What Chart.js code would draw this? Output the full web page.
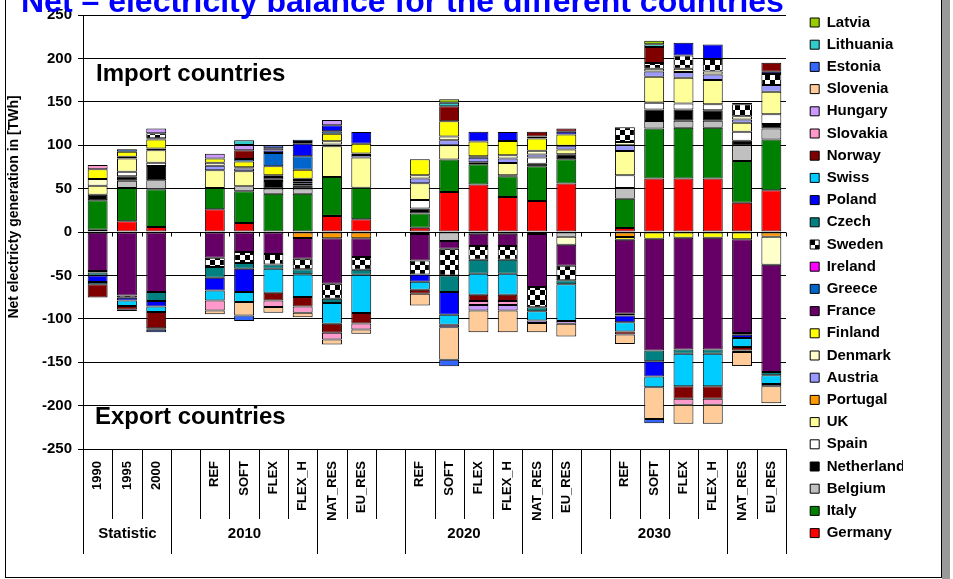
<!DOCTYPE html>
<html>
<head>
<meta charset="utf-8">
<script src="https://cdn.jsdelivr.net/npm/chart.js@4.4.1/dist/chart.umd.min.js"></script>
<style>
  html, body { margin: 0; padding: 0; background: #fff; }
  #wrap { width: 953px; height: 579px; }
</style>
</head>
<body>
<div id="wrap"><canvas id="balanceChart" width="953" height="579"></canvas></div>
<script>
// x categories, empty strings are the spacer columns between the groups
var categories = ['1990', '1995', '2000', '', 'REF', 'SOFT', 'FLEX', 'FLEX_H', 'NAT_RES', 'EU_RES', '',
    'REF', 'SOFT', 'FLEX', 'FLEX_H', 'NAT_RES', 'EU_RES', '', 'REF', 'SOFT', 'FLEX', 'FLEX_H', 'NAT_RES', 'EU_RES'];
var groupNames = ['Statistic', '2010', '2020', '2030'];
var groupStart = [0, 3, 11, 17];
var groupEnd = [3, 8, 15, 22];
var longSeparators = [0, 3, 8, 11, 15, 17, 22, 24];
var yTicks = [-250, -200, -150, -100, -50, 0, 50, 100, 150, 200, 250];

// net balance per country in TWh (positive = import, negative = export)
var germany = [2.7, 12.3, 5.8, 0, 26.2, 10.4, 0, 0, 18.5, 14.6, 0, 5, 46.2, 54.6, 40.4, 35.8, 55.8, 0, 4.6, 61.5, 61.5, 61.5, 33.8, 48.1];
var italy = [33.8, 38.5, 43.5, 0, 24.6, 36.5, 44.2, 44.2, 45, 36.5, 0, 16.2, 37.3, 23.5, 23.8, 40, 28.1, 0, 33.8, 57.7, 58.5, 58.5, 48.1, 58.5];
var belgium = [-1, 8.1, 10.4, 0, 0, 5.8, 5.8, 5.8, 0, 0, 0, 0, -10.4, -1.9, -1.9, 0, -5.4, 0, 12.3, 8.8, 8.1, 8.1, 18.1, 12.7];
var netherland = [6.5, 5.4, 16.2, 0, 0, 0, 8.8, 3.8, 0, 0, 0, 5.8, 0, 0, 1.2, 2.7, 5.8, 0, 0, 13.1, 13.1, 12.3, 5, 5];
var spain = [0, 5, 3.8, 0, 0, 0, 1.9, 1.9, 0, 0, 0, 10, 0, 0, 0, 7.3, 0, 0, 14.6, 7.7, 6.9, 6.9, 10.4, 11.5];
var uk = [10.4, 15.4, 14.6, 0, 20.4, 17.3, 0, 2.3, 35.4, 34.6, 0, 19.2, 16.5, 2.3, 14.2, -2.3, 5.4, 0, 28.1, 30, 29.6, 27.7, 10.4, 25.8];
var portugal = [0, 0, 0, 0, 0, 0, 0, -6.9, -7.3, -7.3, 0, -2.3, 0, 0, 0, 0, 0, 0, -5.8, 0, 0, 0, 0, -5.4];
var austria = [0, 0, 0, 0, 5, 3.1, 2.7, 1.9, 1.9, 3.1, 0, 5.4, 5.8, 5, 5, 3.5, 4.2, 0, 6.5, 6.2, 6.5, 6.5, 3.8, 7.7];
var denmark = [7.7, 2, 2, 0, 3.5, 1.5, 1.9, 1.5, 3.8, 1.5, 0, 3.8, 4.2, 1.9, 3.8, 4.2, -9.2, 0, 3.8, 3.1, 3.8, 3.5, 3.8, -32.3];
var finland = [11.2, 5.8, 10.4, 0, 5, 6.5, 10.4, 10.4, 8.5, 11.5, 0, 18.5, 17.7, 16.9, 16.5, 14.2, 13, 0, -3.1, -7.7, -6.5, -6.5, -8.4, 0];
var france = [-43.8, -73.1, -69.2, 0, -29.6, -23.1, -25.4, -23.8, -52.3, -21.5, 0, -30.4, -8.8, -14.2, -14.2, -61.2, -24.2, 0, -85.4, -128.8, -128.8, -128.8, -108.1, -123.5];
var greece = [0, 2.7, 0, 0, 0, 3.1, 15.4, 15.4, 3.1, 0, 0, 0, 0, 0, 0, 2.3, 0, 0, 0, 0, 0, 0, 0, 0];
var ireland = [0, 0, 1.2, 0, 0, 0, 0, 0, 0, 0, 0, 0, 0, 0, 0, 0, 0, 0, 0, 0, 0, 0, 0, 0];
var sweden = [-1.9, -2.7, 5.8, 0, -10.8, -12.7, -11.9, -12.3, -17.3, -14.6, 0, -16.2, -30.8, -15.8, -15.8, -23.1, -16.9, 0, 16.9, 6.5, 15.4, 14.2, 13.8, 12.7];
var czech = [-3.5, 0, -10.4, 0, -12.3, -6.5, -5, -5.8, -5, -5.8, 0, 0, -19.2, -16.2, -16.2, -4.6, -4.6, 0, -1.9, -12.3, -5, -5, -1.9, -3.8];
var poland = [-7.3, -3, -6.2, 0, -14.6, -26.9, 2.7, 14.6, 6.9, 13.5, 0, -8.5, -26.2, 11.2, 10.4, 0, 3.1, 0, -7.7, -17.7, 14.6, 16.9, -3.8, 2.7];
var swiss = [-2.7, -6.5, -6.5, 0, -11.5, -11.5, -27.7, -26.2, -23.8, -44.2, 0, -9.2, -11.5, -24.2, -24.2, -10.8, -42.3, 0, -10.8, -12.3, -37.3, -37.3, -10.4, -10];
var norway = [-15.4, -4.2, -18.5, 0, 0, 10, -8.8, -10.8, -10.4, -11.9, 0, -4.6, 17.3, -7.3, -7.3, 5.4, 3.8, 0, -3.5, 18.5, -14.6, -14.6, -3.8, 10.4];
var slovakia = [5, 0, -1.9, 0, -11.5, 0, -7.7, -7.3, -7.7, -6.9, 0, 0, 0, -4.6, -4.6, 0, 0, 0, 0, 0, -6.9, -6.9, 1.5, 0];
var hungary = [0, -1.5, 5.4, 0, 5.4, 6.1, 2.7, 1.9, 5.8, 0, 0, 0, -2.7, -6.2, -6.2, -2.7, -3.1, 0, 0, 0, 0, 0, -1.9, -2.7];
var slovenia = [0, 0, 0, 0, -4.6, -15.4, -6.5, -5, -5.8, -5, 0, -13.5, -37.7, -25, -25, -10.8, -14.6, 0, -10.8, -36.5, -21.9, -21.9, -16.2, -19.6];
var estonia = [0, 0, -2.7, 0, 0, -6.5, 3.1, 2.7, 0, 0, 0, 0, -7.3, 0, 0, 0, 0, 0, 0, -5, 0, 0, 0, 0];
var lithuania = [0, 0, 0, 0, 0, 5.4, 0, 0, 0, 0, 0, 0, 3.8, 0, 0, 0, 0, 0, 0, 3.1, 0, 0, 0, 0];
var latvia = [0, 0, 0, 0, 0, 0, 0, 0, 0, 0, 0, 0, 4.2, 0, 0, 0, 0, 0, 0, 4.2, 0, 0, 0, 0];

// black and white checks for Sweden
var swedenFill = (function () {
    var c = document.createElement('canvas');
    c.width = 10; c.height = 10;
    var g = c.getContext('2d');
    g.fillStyle = '#fff'; g.fillRect(0, 0, 10, 10);
    g.fillStyle = '#000'; g.fillRect(0, 0, 5, 5); g.fillRect(5, 5, 5, 5);
    return g.createPattern(c, 'repeat');
})();

// stacking order from the zero line outwards
var series = [
    ['Germany', germany, '#FF0000'], ['Italy', italy, '#008000'], ['Belgium', belgium, '#C0C0C0'],
    ['Netherland', netherland, '#000000'], ['Spain', spain, '#FFFFFF'], ['UK', uk, '#FFFF99'],
    ['Portugal', portugal, '#FF9900'], ['Austria', austria, '#9999FF'], ['Denmark', denmark, '#FFFFCC'],
    ['Finland', finland, '#FFFF00'], ['France', france, '#660066'], ['Greece', greece, '#0066CC'],
    ['Ireland', ireland, '#FF00FF'], ['Sweden', sweden, swedenFill], ['Czech', czech, '#008080'],
    ['Poland', poland, '#0000FF'], ['Swiss', swiss, '#00CCFF'], ['Norway', norway, '#800000'],
    ['Slovakia', slovakia, '#FF99CC'], ['Hungary', hungary, '#CC99FF'], ['Slovenia', slovenia, '#FFCC99'],
    ['Estonia', estonia, '#3366FF'], ['Lithuania', lithuania, '#33CCCC'], ['Latvia', latvia, '#99CC00']
];

var datasets = series.map(function (s) {
    return {
        label: s[0],
        data: s[1].map(function (v) { return v === 0 ? null : v; }),
        backgroundColor: s[2],
        borderColor: '#000',
        borderWidth: 1,
        borderSkipped: false,
        categoryPercentage: 1,
        barPercentage: 0.68
    };
});

var FONT = "'Liberation Sans', Arial, sans-serif";
var NARROW = "'Liberation Sans Narrow', 'Arial Narrow', 'Liberation Sans', sans-serif";

var decorations = {
    id: 'decorations',
    afterLayout: function (chart) {
        // nudge the legend column to where the original sits
        var lg = chart.legend;
        lg.left += 17; lg.right += 17;
        lg.top -= 7.2; lg.bottom -= 7.2;
    },
    beforeDraw: function (chart) {
        var ctx = chart.ctx;
        ctx.save();
        ctx.fillStyle = '#fff';
        ctx.fillRect(0, 0, chart.width, chart.height);
        ctx.fillStyle = '#999';
        ctx.fillRect(942, 0, 8, 579);
        ctx.strokeStyle = '#000';
        ctx.lineWidth = 1;
        ctx.strokeRect(5.5, -2, 936, 579.5);
        ctx.restore();
    },
    afterDraw: function (chart) {
        var ctx = chart.ctx;
        var xs = chart.scales.x, ys = chart.scales.y;
        var step = xs.width / categories.length;
        var edge = function (i) { return Math.round(xs.left + i * step) + 0.5; };
        var bottom = chart.chartArea.bottom;
        var y0 = Math.round(ys.getPixelForValue(0)) + 0.5;
        ctx.save();
        ctx.strokeStyle = '#000';
        ctx.lineWidth = 1;
        ctx.beginPath();
        for (var i = 0; i <= categories.length; i++) {
            ctx.moveTo(edge(i), y0);
            ctx.lineTo(edge(i), y0 + 4);
            ctx.moveTo(edge(i), bottom);
            ctx.lineTo(edge(i), longSeparators.indexOf(i) >= 0 ? 554 : 519);
        }
        ctx.stroke();

        ctx.fillStyle = '#000';
        ctx.font = 'bold 15px ' + NARROW;
        ctx.textAlign = 'center';
        ctx.textBaseline = 'middle';
        groupNames.forEach(function (name, k) {
            ctx.fillText(name, (edge(groupStart[k]) + edge(groupEnd[k])) / 2, 534);
        });

        ctx.textAlign = 'left';
        ctx.textBaseline = 'alphabetic';
        ctx.font = 'bold 24px ' + FONT;
        ctx.fillText('Import countries', 96, 81);
        ctx.fillText('Export countries', 95, 424);

        ctx.fillStyle = '#0000FF';
        ctx.font = 'bold 32px ' + FONT;
        ctx.fillText('Net \u2013 electricity balance for the different countries', 21, 12);

        ctx.fillStyle = '#000';
        ctx.font = 'bold 14px ' + FONT;
        ctx.translate(14, 207);
        ctx.rotate(-Math.PI / 2);
        ctx.textAlign = 'center';
        ctx.textBaseline = 'middle';
        ctx.fillText('Net electricty generation in [TWh]', 0, 0);
        ctx.restore();
    }
};

Chart.defaults.font.family = FONT;
Chart.defaults.color = '#000';

new Chart(document.getElementById('balanceChart').getContext('2d'), {
    type: 'bar',
    data: { labels: categories, datasets: datasets },
    options: {
        responsive: false,
        animation: false,
        events: [],
        layout: { padding: { left: 0, top: 15, right: 67, bottom: 0 } },
        plugins: {
            tooltip: { enabled: false },
            legend: {
                position: 'right',
                align: 'start',
                reverse: true,
                maxWidth: 100,
                labels: {
                    boxWidth: 9,
                    boxHeight: 9,
                    padding: 7.2,
                    color: '#000',
                    font: { size: 15, weight: 'bold' }
                }
            }
        },
        scales: {
            x: {
                stacked: true,
                offset: true,
                grid: { display: false, drawTicks: false },
                border: { display: false },
                ticks: {
                    autoSkip: false,
                    minRotation: 90,
                    maxRotation: 90,
                    padding: 12,
                    font: { size: 13, weight: 'bold' }
                },
                afterFit: function (scale) { scale.height = 130; }
            },
            y: {
                stacked: true,
                min: yTicks[0],
                max: yTicks[yTicks.length - 1],
                afterBuildTicks: function (scale) {
                    scale.ticks = yTicks.map(function (v) { return { value: v }; });
                },
                grid: { color: '#000', lineWidth: 1, tickLength: 5 },
                border: { color: '#000' },
                ticks: { padding: 6, font: { size: 15, weight: 'bold' } },
                afterFit: function (scale) { scale.width = 83; }
            }
        }
    },
    plugins: [decorations]
});
</script>
</body>
</html>
